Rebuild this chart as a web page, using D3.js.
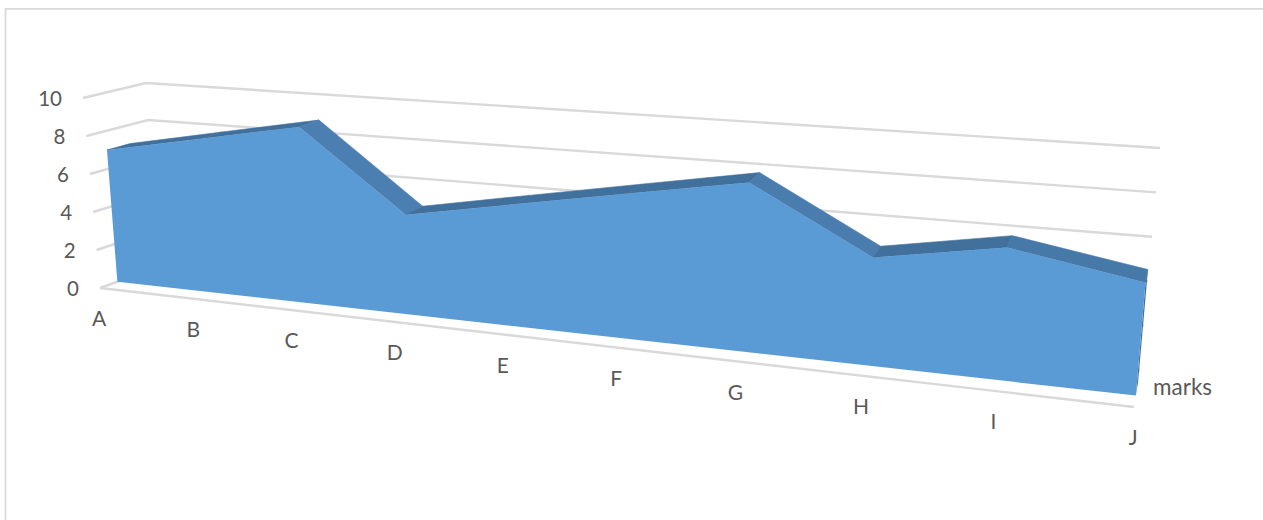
<!DOCTYPE html>
<html>
<head>
<meta charset="utf-8">
<script src="https://cdnjs.cloudflare.com/ajax/libs/d3/7.8.5/d3.min.js"></script>
<style>
  html, body { margin: 0; padding: 0; background: #fff; }
  svg { display: block; }
  text { font-family: Lato, "Open Sans", sans-serif; fill: #595959; font-size: 20.5px; }
  .cat { font-size: 21px; }
  .series { font-size: 22.5px; }
</style>
</head>
<body>
<svg id="chart" width="1263" height="520"></svg>
<script>
// Values of the single series
const categories = ["A", "B", "C", "D", "E", "F", "G", "H", "I", "J"];
const marks = [7, 8, 9, 5, 6, 7, 8, 5, 6, 5];
const seriesName = "marks";
const valueTicks = [0, 2, 4, 6, 8, 10];

// Box corners on the page: [x, y] at value 0 and at value 10, front and back of each end
const leftFront  = { low: [100, 288], high: [83, 98] };
const leftBack   = { low: [156, 268], high: [146, 83] };
const rightFront = { low: [1134, 407], high: [1153, 179] };
const rightBack  = { low: [1140, 370], high: [1160, 148] };
const farWeight = 0.8;            // perspective weight of the right-hand end
const areaDepth = [0.31, 0.69];   // depth range occupied by the area slab

const svg = d3.select("#chart");

const tScale = d3.scalePoint().domain(categories).range([0, 1]);
const vScale = d3.scaleLinear().domain([0, 10]).range([0, 1]);

const mix = (a, b, f) => [a[0] + (b[0] - a[0]) * f, a[1] + (b[1] - a[1]) * f];

// Projects (category position, depth, value) onto the page
function project(t, depth, value) {
  const f = vScale(value);
  const leftPt = mix(mix(leftFront.low, leftFront.high, f), mix(leftBack.low, leftBack.high, f), depth);
  const rightPt = mix(mix(rightFront.low, rightFront.high, f), mix(rightBack.low, rightBack.high, f), depth);
  const s = farWeight * t / ((1 - t) + farWeight * t);
  return mix(leftPt, rightPt, s);
}

const line = d3.line();
const gridColor = "#D9D9D9";

// Chart frame
svg.append("path")
  .attr("d", "M5.5,520V8.8H1263")
  .attr("fill", "none").attr("stroke", "#D9D9D9").attr("stroke-width", 1.8);

// Wall gridlines
const grid = svg.append("g").attr("fill", "none").attr("stroke", gridColor).attr("stroke-width", 2.4);
valueTicks.forEach(v => {
  grid.append("path").attr("d", line([project(0, 0, v), project(0, 1, v), project(1, 1, v)]));
});
// Front edge of the floor
grid.append("path").attr("d", line([project(0, 0, 0), project(1, 0, 0)]));

const [frontDepth, backDepth] = areaDepth;
const tOf = c => tScale(c);

// Top faces of the slab, darker on the rising stretches
const slopeShade = d3.scaleLinear().domain([-4, -1, 1]).range(["#4C7FB1", "#4678A8", "#42709C"]);
const topFaces = svg.append("g");
categories.slice(0, -1).forEach((c, i) => {
  const next = categories[i + 1];
  const shade = slopeShade(marks[i + 1] - marks[i]);
  topFaces.append("path")
    .attr("d", line([
      project(tOf(c), frontDepth, marks[i]),
      project(tOf(c), backDepth, marks[i]),
      project(tOf(next), backDepth, marks[i + 1]),
      project(tOf(next), frontDepth, marks[i + 1])
    ]) + "Z")
    .attr("fill", shade)
    .attr("stroke", shade)
    .attr("stroke-width", 0.6);
});

// Right-hand end of the slab
const last = categories.length - 1;
svg.append("path")
  .attr("d", line([
    project(1, frontDepth, 0),
    project(1, backDepth, 0),
    project(1, backDepth, marks[last]),
    project(1, frontDepth, marks[last])
  ]) + "Z")
  .attr("fill", "#41709E");

// Front face of the area
const outline = categories.map((c, i) => project(tOf(c), frontDepth, marks[i]));
outline.push(project(1, frontDepth, 0), project(0, frontDepth, 0));
svg.append("path")
  .attr("d", line(outline) + "Z")
  .attr("fill", "#5B9BD5");

// Value labels beside the left wall
svg.append("g").selectAll("text").data(valueTicks).join("text")
  .attr("x", d => project(0, 0, d)[0] - 21)
  .attr("y", d => project(0, 0, d)[1] + 1)
  .attr("dy", "0.35em")
  .attr("text-anchor", "end")
  .text(d => d);

// Category labels below the front edge
svg.append("g").selectAll("text").data(categories).join("text")
  .attr("class", "cat")
  .attr("x", d => project(tOf(d), 0, 0)[0] - 0.8)
  .attr("y", d => project(tOf(d), 0, 0)[1] + 31)
  .attr("dy", "0.35em")
  .attr("text-anchor", "middle")
  .text(d => d);

// Series label on the depth axis
const labelAt = project(1, 0.5, 0);
svg.append("text")
  .attr("class", "series")
  .attr("x", labelAt[0] + 16)
  .attr("y", labelAt[1] - 1)
  .attr("dy", "0.35em")
  .text(seriesName);
</script>
</body>
</html>
